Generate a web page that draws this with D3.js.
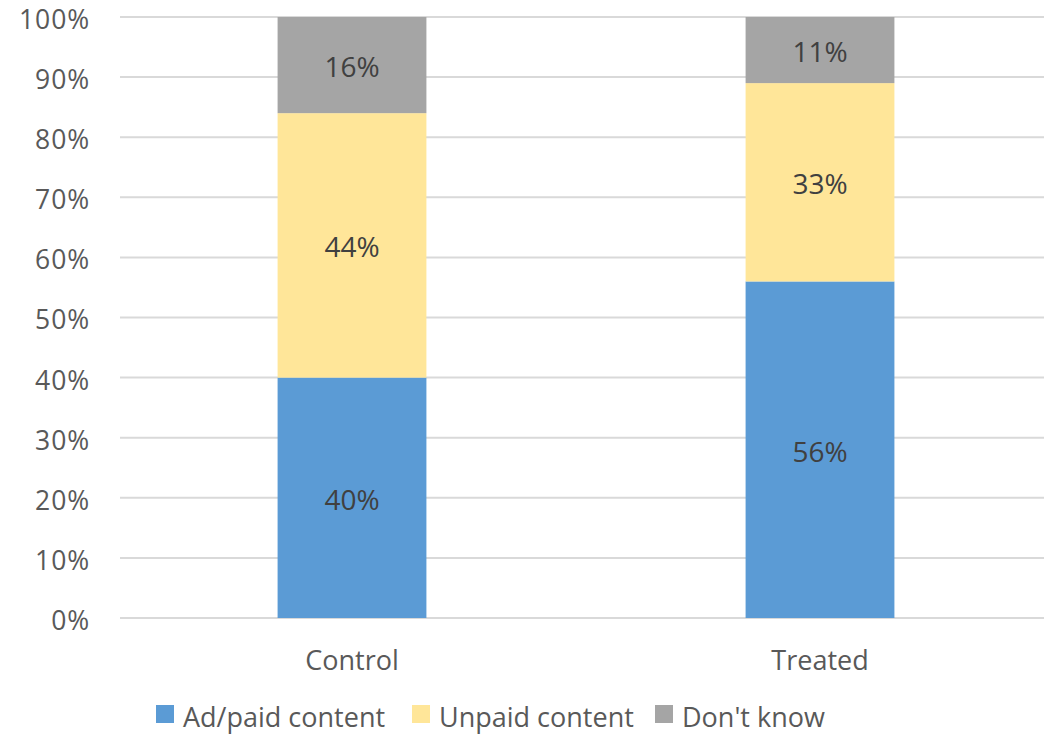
<!DOCTYPE html>
<html><head><meta charset="utf-8">
<script src="https://cdn.jsdelivr.net/npm/d3@7"></script>
<style>body{margin:0;background:#fff}svg{display:block}text{font-family:"Open Sans",sans-serif}</style>
</head><body><svg id="c" width="1044" height="734"></svg>
<script>
const categories = ["Control", "Treated"];
const seriesNames = ["Ad/paid content", "Unpaid content", "Don't know"];
const adPaid = [40, 56];
const unpaid = [44, 33];
const dontKnow = [16, 11];
const yTicks = [0,10,20,30,40,50,60,70,80,90,100];
const colors = ["#5B9BD5", "#FFE699", "#A5A5A5"];

const svg = d3.select("#c");
const x = d3.scaleBand().domain(categories).range([118, 1054]).padding(0);
const y = d3.scaleLinear().domain([0, 100]).range([618, 17]);
const barW = x.bandwidth() * 0.318;

svg.append("g").selectAll("line").data(yTicks).join("line")
  .attr("x1", 120).attr("x2", 1044)
  .attr("y1", d => y(d)).attr("y2", d => y(d))
  .attr("stroke", "#D9D9D9").attr("stroke-width", 2);

svg.append("g").selectAll("text").data(yTicks).join("text")
  .attr("x", 90).attr("y", d => y(d)).attr("dy", "0.45em")
  .attr("text-anchor", "end").attr("font-size", 26.5).attr("letter-spacing", 0.9).attr("fill", "#595959")
  .text(d => d + "%");

const rows = categories.map((c, i) => ({cat: c, vals: [adPaid[i], unpaid[i], dontKnow[i]]}));
const stackData = rows.map(r => { const o = {cat: r.cat}; seriesNames.forEach((s, j) => o[s] = r.vals[j]); return o; });
const stack = d3.stack().keys(seriesNames)(stackData);

stack.forEach((layer, j) => {
  const g = svg.append("g");
  g.selectAll("rect").data(layer).join("rect")
    .attr("x", d => x(d.data.cat) + x.bandwidth()/2 - barW/2)
    .attr("width", barW)
    .attr("y", d => y(d[1]))
    .attr("height", d => y(d[0]) - y(d[1]))
    .attr("fill", colors[j]);
  g.selectAll("text").data(layer).join("text")
    .attr("x", d => x(d.data.cat) + x.bandwidth()/2)
    .attr("y", d => y((d[0] + d[1]) / 2)).attr("dy", "0.43em")
    .attr("text-anchor", "middle").attr("font-size", 28).attr("fill", "#404040")
    .text(d => (d[1] - d[0]) + "%");
});

svg.append("g").selectAll("text").data(categories).join("text")
  .attr("x", d => x(d) + x.bandwidth()/2).attr("y", 660).attr("dy", "0.36em")
  .attr("text-anchor", "middle").attr("font-size", 27).attr("fill", "#595959")
  .text(d => d);

const legendX = [156, 412, 655];
const lg = svg.append("g").selectAll("g").data(seriesNames).join("g")
  .attr("transform", (d, i) => `translate(${legendX[i]},0)`);
lg.append("rect").attr("x", 0).attr("y", 705).attr("width", 18).attr("height", 18)
  .attr("fill", (d, i) => colors[i]);
lg.append("text").attr("x", 27).attr("y", 727)
  .attr("font-size", 27).attr("fill", "#595959").text(d => d);
</script></body></html>
